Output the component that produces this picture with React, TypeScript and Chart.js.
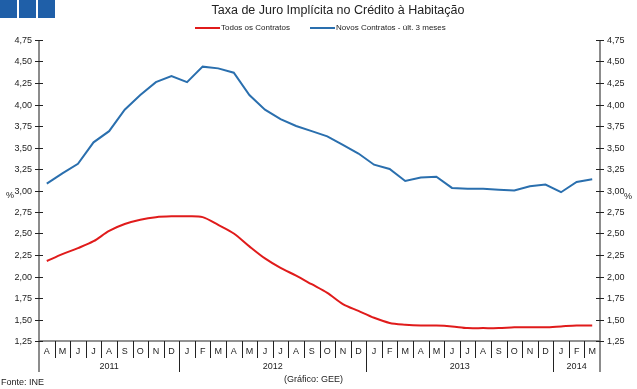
import React, { useEffect, useRef } from "react";
import { Chart, registerables } from "chart.js";

Chart.register(...registerables);

const monthLabels = ["A","M","J","J","A","S","O","N","D","J","F","M","A","M","J","J","A","S","O","N","D","J","F","M","A","M","J","J","A","S","O","N","D","J","F","M"];
const yearLabels = ["2011", "2012", "2013", "2014"];
const yearStartIndex = [0, 9, 21, 33];

const todosContratos = [2.18,2.26,2.33,2.41,2.53,2.61,2.66,2.69,2.70,2.70,2.69,2.60,2.50,2.35,2.21,2.10,2.01,1.91,1.81,1.68,1.60,1.52,1.46,1.44,1.43,1.43,1.42,1.40,1.40,1.40,1.41,1.41,1.41,1.42,1.43,1.43];
const novosContratos = [3.08,3.20,3.31,3.56,3.69,3.94,4.11,4.26,4.33,4.26,4.44,4.42,4.37,4.11,3.94,3.83,3.75,3.69,3.63,3.53,3.43,3.30,3.25,3.11,3.15,3.16,3.03,3.02,3.02,3.01,3.00,3.05,3.07,2.98,3.10,3.13];

const yMin = 1.25;
const yMax = 4.75;
const yStep = 0.25;

const titleText = "Taxa de Juro Implícita no Crédito à Habitação";
const seriesNames = ["Todos os Contratos", "Novos Contratos - últ. 3 meses"];
const redColor = "#E01B1B";
const blueColor = "#2A6FAE";
const FONT = "'Liberation Sans', Arial, sans-serif";

const decorPlugin = {
  id: "decor",
  afterDraw(chart: any) {
    const ctx = chart.ctx;
    const area = chart.chartArea;
    const xs = chart.scales.x;
    const ys = chart.scales.y;
    const L = area.left, R = area.right, T = area.top, B = area.bottom;
    ctx.save();

    // blue squares
    ctx.fillStyle = "#1F5FA8";
    for (let i = 0; i < 3; i++) ctx.fillRect(i * 19, 0, 17, 18);

    // title
    ctx.fillStyle = "#222";
    ctx.font = `12.5px ${FONT}`;
    ctx.textAlign = "center";
    ctx.textBaseline = "middle";
    ctx.fillText(titleText, 338, 11);

    // legend
    ctx.font = `8px ${FONT}`;
    ctx.textAlign = "left";
    ctx.lineWidth = 2;
    ctx.strokeStyle = redColor;
    ctx.beginPath(); ctx.moveTo(195, 28); ctx.lineTo(220, 28); ctx.stroke();
    ctx.fillStyle = "#222";
    ctx.fillText(seriesNames[0], 221, 28);
    ctx.strokeStyle = blueColor;
    ctx.beginPath(); ctx.moveTo(310, 28); ctx.lineTo(335, 28); ctx.stroke();
    ctx.fillText(seriesNames[1], 336, 28);

    // axis lines
    const axisBottom = B + 31;
    ctx.strokeStyle = "#8C8C8C";
    ctx.lineWidth = 2;
    ctx.beginPath();
    ctx.moveTo(L, T); ctx.lineTo(L, axisBottom);
    ctx.moveTo(R, T); ctx.lineTo(R, axisBottom);
    ctx.stroke();
    ctx.lineWidth = 1.5;
    ctx.strokeStyle = "#6E6E6E";
    ctx.beginPath(); ctx.moveTo(L, B); ctx.lineTo(R, B); ctx.stroke();

    // y ticks and labels
    ctx.strokeStyle = "#222";
    ctx.lineWidth = 1;
    ctx.fillStyle = "#222";
    ctx.font = `9px ${FONT}`;
    ctx.textBaseline = "middle";
    for (let v = yMin; v <= yMax + 1e-9; v += yStep) {
      const y = Math.round(ys.getPixelForValue(v)) + 0.5;
      ctx.beginPath();
      ctx.moveTo(L - 4, y); ctx.lineTo(L + 4, y);
      ctx.moveTo(R - 4, y); ctx.lineTo(R + 4, y);
      ctx.stroke();
      const txt = v.toFixed(2).replace(".", ",");
      ctx.textAlign = "right";
      ctx.fillText(txt, L - 7, y);
      ctx.textAlign = "left";
      ctx.fillText(txt, R + 7, y);
    }
    ctx.textAlign = "center";
    ctx.fillText("%", 10, 196);
    ctx.fillText("%", 628, 197);

    // x separators and month labels
    const n = monthLabels.length;
    ctx.strokeStyle = "#222";
    ctx.lineWidth = 1;
    for (let i = 0; i < n; i++) {
      const cx = xs.getPixelForValue(i);
      ctx.textAlign = "center";
      ctx.fillText(monthLabels[i], cx, B + 11);
      if (i < n - 1) {
        const bx = Math.round((cx + xs.getPixelForValue(i + 1)) / 2) + 0.5;
        const isYear = yearStartIndex.indexOf(i + 1) >= 0;
        ctx.beginPath();
        ctx.moveTo(bx, B);
        ctx.lineTo(bx, isYear ? axisBottom : B + 17);
        ctx.stroke();
      }
    }
    // year labels
    for (let k = 0; k < yearLabels.length; k++) {
      const s = yearStartIndex[k];
      const e = k + 1 < yearStartIndex.length ? yearStartIndex[k + 1] - 1 : n - 1;
      const cx = (xs.getPixelForValue(s) + xs.getPixelForValue(e)) / 2;
      ctx.fillText(yearLabels[k], cx, B + 26);
    }

    // footer
    ctx.textAlign = "left";
    ctx.fillText("Fonte: INE", 1, 383);
    ctx.fillText("(Gráfico: GEE)", 284, 380);
    ctx.restore();
  },
};

export default function App() {
  const ref = useRef<HTMLCanvasElement | null>(null);
  useEffect(() => {
    document.body.style.margin = "0";
    if (!ref.current) return;
    const chart = new Chart(ref.current, {
      type: "line",
      data: {
        labels: monthLabels.map((m, i) => m + i),
        datasets: [
          { label: seriesNames[0], data: todosContratos, borderColor: redColor, borderWidth: 2, pointRadius: 0, tension: 0.3, fill: false },
          { label: seriesNames[1], data: novosContratos, borderColor: blueColor, borderWidth: 2, pointRadius: 0, tension: 0, fill: false },
        ],
      },
      options: {
        responsive: false,
        animation: false,
        layout: { padding: { left: 39, right: 37, top: 40, bottom: 48 } },
        plugins: { legend: { display: false }, title: { display: false }, tooltip: { enabled: false } },
        scales: {
          x: { type: "category", display: false, offset: true },
          y: { display: false, min: yMin, max: yMax },
        },
      },
      plugins: [decorPlugin],
    });
    return () => chart.destroy();
  }, []);
  return (
    <div style={{ width: 637, height: 389 }}>
      <canvas ref={ref} width={637} height={389} style={{ display: "block" }} />
    </div>
  );
}
